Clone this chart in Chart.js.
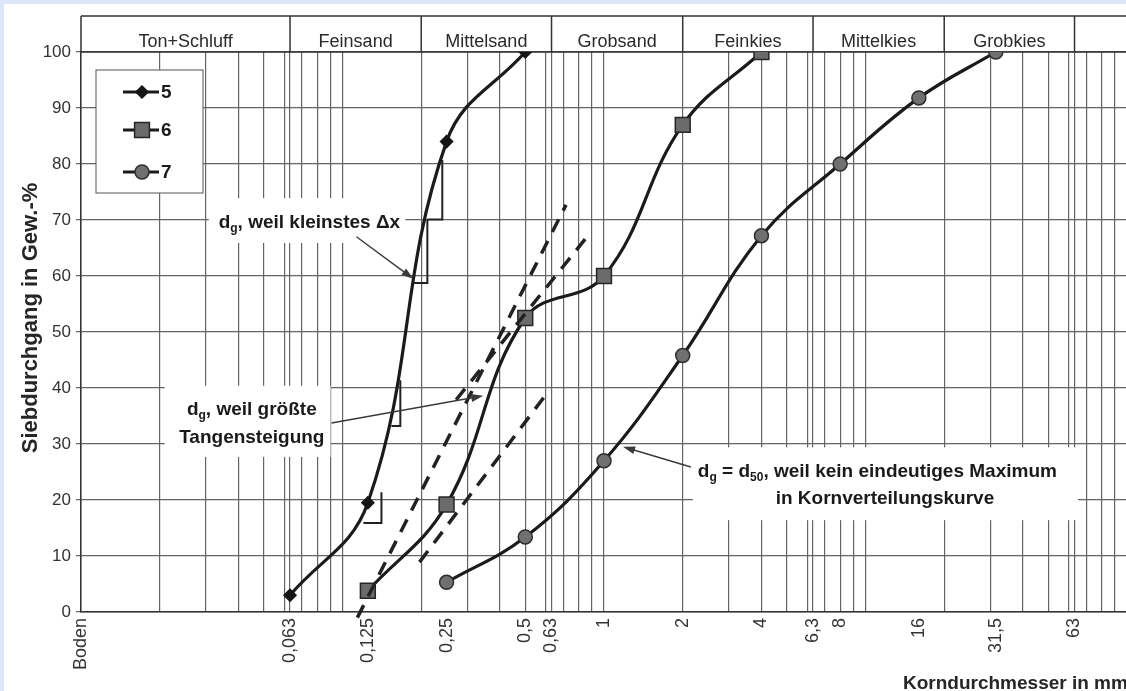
<!DOCTYPE html>
<html>
<head>
<meta charset="utf-8">
<script src="https://cdn.jsdelivr.net/npm/chart.js@4"></script>
<style>
  html, body { margin: 0; padding: 0; width: 1126px; height: 691px; overflow: hidden; background: #dce8f9; }
  #wrap { position: absolute; left: 4px; top: 4px; width: 1150px; height: 687px; background: #fff; }
</style>
</head>
<body>
<div id="wrap"><canvas id="myChart"></canvas></div>
<script>
// Kornverteilungskurven 5, 6, 7 (Siebdurchgang in % ueber Korndurchmesser in mm)
const sieveSizes5 = [0.063, 0.125, 0.25, 0.5];
const passing5 = [3, 19.5, 84, 100];

const sieveSizes6 = [0.125, 0.25, 0.5, 1, 2, 4];
const passing6 = [3.8, 19.2, 52.5, 60, 87, 100];

const sieveSizes7 = [0.25, 0.5, 1, 2, 4, 8, 16, 31.5];
const passing7 = [5.3, 13.4, 27, 45.8, 67.2, 80, 91.8, 100];

const seriesNames = ['5', '6', '7'];

// x-axis labels (not all of them have a grid line)
const tickValues = [0.01, 0.063, 0.125, 0.25, 0.5, 0.63, 1, 2, 4, 6.3, 8, 16, 31.5, 63];
const tickLabels = ['Boden', '0,063', '0,125', '0,25', '0,5', '0,63', '1', '2', '4', '6,3', '8', '16', '31,5', '63'];
const extraGrid = [0.063, 0.63, 6.3, 63];

// soil classes in the header band
const soilClasses = ['Ton+Schluff', 'Feinsand', 'Mittelsand', 'Grobsand', 'Feinkies', 'Mittelkies', 'Grobkies', ''];
const classLimits = [0.01, 0.063, 0.2, 0.63, 2, 6.3, 20, 63, 100];

// dashed tangents [d1, %1, d2, %2]
const tangents = [
    [0.114, -1, 0.716, 72.7],
    [0.197, 8.9, 0.606, 39.1],
    [0.272, 37.9, 0.854, 66.8]
];
// delta-x steps on curve 5 [d1, %1, d2, %2]
const deltaSteps = [
    [0.1202, 15.9, 0.1409, 21.4],
    [0.1538, 33.2, 0.1664, 41.4],
    [0.1866, 58.75, 0.2111, 70.1],
    [0.2111, 70.1, 0.2408, 80.7]
];
// arrows [from d, from %, to d, to %]
const arrows = [
    [0.1131, 67.0, 0.1866, 59.5],
    [0.0908, 33.75, 0.3452, 38.6],
    [2.148, 25.9, 1.182, 29.5]
];
// white boxes behind the notes [d1, d2, %low, %high]
const noteBoxes = [
    [0.0308, 0.174, 65.9, 73.9],
    [0.0209, 0.090, 27.7, 40.4],
    [2.186, 65, 16.4, 29.4]
];
// notes: parts [text, subscript], anchor d, %, align
const notes = [
    { parts: [['d'], ['g', 1], [', weil kleinstes \u0394x']], d: 0.0336, p: 69.5, align: 'left' },
    { parts: [['d'], ['g', 1], [', weil gr\u00f6\u00dfte']], d: 0.045, p: 36.1, align: 'center' },
    { parts: [['Tangensteigung']], d: 0.045, p: 31.2, align: 'center' },
    { parts: [['d'], ['g', 1], [' = d'], ['50', 1], [', weil kein eindeutiges Maximum']], d: 2.285, p: 25, align: 'left' },
    { parts: [['in Kornverteilungskurve']], d: 4.534, p: 20.2, align: 'left' }
];

const FONT = '"Liberation Sans", Arial, sans-serif';
const GRID = '#646464';
const INK = '#1b1b1b';

const gridValues = [];
for (let e = -2; e <= 1; e++) {
    for (let m = 1; m <= 9; m++) {
        gridValues.push(+(m * Math.pow(10, e)).toPrecision(2));
    }
}
gridValues.push(100, ...extraGrid);
const allTicks = [...new Set([...gridValues, ...tickValues])].sort((a, b) => a - b);

const toPoints = (xs, ys) => xs.map((d, i) => ({ x: d, y: ys[i] }));

const markerStyles = [
    { pointStyle: 'rectRot', radius: 6, fill: '#151515', stroke: '#151515' },
    { pointStyle: 'rect', radius: 10.5, fill: '#6b6b6b', stroke: '#262626' },
    { pointStyle: 'circle', radius: 7, fill: '#707070', stroke: '#2e2e2e' }
];

function drawMarker(ctx, style, x, y) {
    ctx.save();
    ctx.fillStyle = style.fill;
    ctx.strokeStyle = style.stroke;
    ctx.lineWidth = 1.5;
    ctx.beginPath();
    const r = style.radius;
    if (style.pointStyle === 'rectRot') {
        ctx.moveTo(x, y - r); ctx.lineTo(x + r, y); ctx.lineTo(x, y + r); ctx.lineTo(x - r, y); ctx.closePath();
    } else if (style.pointStyle === 'rect') {
        const s = r * Math.SQRT1_2;
        ctx.rect(x - s, y - s, 2 * s, 2 * s);
    } else {
        ctx.arc(x, y, r, 0, Math.PI * 2);
    }
    ctx.fill();
    ctx.stroke();
    ctx.restore();
}

function richText(ctx, parts, x, y, align, size) {
    const big = `bold ${size}px ${FONT}`;
    const small = `bold ${Math.round(size * 0.62)}px ${FONT}`;
    let w = 0;
    parts.forEach(([t, sub]) => { ctx.font = sub ? small : big; w += ctx.measureText(t).width; });
    let cx = align === 'center' ? x - w / 2 : x;
    ctx.textAlign = 'left';
    ctx.textBaseline = 'middle';
    parts.forEach(([t, sub]) => {
        ctx.font = sub ? small : big;
        ctx.fillText(t, cx, sub ? y + size * 0.32 : y);
        cx += ctx.measureText(t).width;
    });
}

function arrow(ctx, x1, y1, x2, y2) {
    const a = Math.atan2(y2 - y1, x2 - x1);
    const len = 12, half = 4;
    ctx.beginPath();
    ctx.moveTo(x1, y1);
    ctx.lineTo(x2 - Math.cos(a) * len * 0.8, y2 - Math.sin(a) * len * 0.8);
    ctx.stroke();
    ctx.beginPath();
    ctx.moveTo(x2, y2);
    ctx.lineTo(x2 - Math.cos(a) * len - Math.sin(a) * half, y2 - Math.sin(a) * len + Math.cos(a) * half);
    ctx.lineTo(x2 - Math.cos(a) * len + Math.sin(a) * half, y2 - Math.sin(a) * len - Math.cos(a) * half);
    ctx.closePath();
    ctx.fill();
}

const sheetPlugin = {
    id: 'sheet',
    beforeDatasetsDraw(chart) {
        const { ctx, chartArea: a } = chart;
        const px = v => chart.scales.x.getPixelForValue(v);
        const py = v => chart.scales.y.getPixelForValue(v);
        ctx.save();

        // white boxes behind the notes hide the grid
        ctx.fillStyle = '#fff';
        noteBoxes.forEach(([d1, d2, p1, p2]) => {
            ctx.fillRect(px(d1), py(p2), px(d2) - px(d1), py(p1) - py(p2));
        });

        // header band with soil classes
        const hTop = a.top - 36;
        ctx.strokeStyle = '#333';
        ctx.lineWidth = 1.5;
        ctx.beginPath();
        ctx.moveTo(a.left, hTop); ctx.lineTo(a.right, hTop);
        ctx.moveTo(a.left, a.top); ctx.lineTo(a.right, a.top);
        classLimits.forEach(d => { ctx.moveTo(px(d), hTop); ctx.lineTo(px(d), a.top); });
        ctx.stroke();
        ctx.fillStyle = '#2a2a2a';
        ctx.font = `18px ${FONT}`;
        ctx.textAlign = 'center';
        ctx.textBaseline = 'alphabetic';
        soilClasses.forEach((name, i) => {
            if (!name) return;
            ctx.fillText(name, (px(classLimits[i]) + px(classLimits[i + 1])) / 2, a.top - 5);
        });

        // legend box inside the plot
        const lx = a.left + 15, ly = a.top + 18;
        ctx.fillStyle = '#fff';
        ctx.fillRect(lx, ly, 107, 123);
        ctx.strokeStyle = '#555';
        ctx.lineWidth = 1;
        ctx.strokeRect(lx, ly, 107, 123);
        const rows = [40, 78, 120];
        seriesNames.forEach((name, i) => {
            const y = a.top + rows[i];
            ctx.strokeStyle = INK;
            ctx.lineWidth = 3;
            ctx.beginPath();
            ctx.moveTo(a.left + 42, y); ctx.lineTo(a.left + 78, y);
            ctx.stroke();
            drawMarker(ctx, markerStyles[i], a.left + 61, y);
            ctx.fillStyle = '#1a1a1a';
            ctx.font = `bold 19px ${FONT}`;
            ctx.textAlign = 'left';
            ctx.textBaseline = 'middle';
            ctx.fillText(name, a.left + 80, y + 1);
        });
        ctx.restore();
    },
    afterDatasetsDraw(chart) {
        const { ctx, chartArea: a } = chart;
        const px = v => chart.scales.x.getPixelForValue(v);
        const py = v => chart.scales.y.getPixelForValue(v);
        ctx.save();

        // dashed tangents
        ctx.strokeStyle = '#222';
        ctx.lineWidth = 3.5;
        ctx.setLineDash([14, 10]);
        tangents.forEach(([d1, p1, d2, p2]) => {
            ctx.beginPath();
            ctx.moveTo(px(d1), py(p1));
            ctx.lineTo(px(d2), py(p2));
            ctx.stroke();
        });
        ctx.setLineDash([]);

        // delta-x steps
        ctx.strokeStyle = '#222';
        ctx.lineWidth = 2;
        deltaSteps.forEach(([d1, p1, d2, p2]) => {
            ctx.beginPath();
            ctx.moveTo(px(d1), py(p1));
            ctx.lineTo(px(d2), py(p1));
            ctx.lineTo(px(d2), py(p2));
            ctx.stroke();
        });

        // arrows
        ctx.strokeStyle = '#3a3a3a';
        ctx.fillStyle = '#3a3a3a';
        ctx.lineWidth = 1.4;
        arrows.forEach(([d1, p1, d2, p2]) => arrow(ctx, px(d1), py(p1), px(d2), py(p2)));

        // notes
        ctx.fillStyle = '#1a1a1a';
        notes.forEach(n => richText(ctx, n.parts, px(n.d), py(n.p), n.align, 19));

        // axis titles
        ctx.fillStyle = '#262626';
        ctx.font = `bold 22px ${FONT}`;
        ctx.textBaseline = 'middle';
        ctx.textAlign = 'center';
        ctx.save();
        ctx.translate(27, (a.top + a.bottom) / 2 - 14);
        ctx.rotate(-Math.PI / 2);
        ctx.fillText('Siebdurchgang in Gew.-%', 0, 0);
        ctx.restore();
        ctx.font = `bold 19px ${FONT}`;
        ctx.textAlign = 'left';
        ctx.fillText('Korndurchmesser in mm', a.right - 224, a.bottom + 72);
        ctx.restore();
    }
};

const datasetStyle = (i) => ({
    borderColor: INK,
    borderWidth: 3.2,
    tension: 0.4,
    pointStyle: markerStyles[i].pointStyle,
    pointRadius: markerStyles[i].radius,
    pointBackgroundColor: markerStyles[i].fill,
    pointBorderColor: markerStyles[i].stroke,
    pointBorderWidth: 1.5
});

new Chart(document.getElementById('myChart'), {
    type: 'line',
    data: {
        datasets: [
            { label: seriesNames[0], data: toPoints(sieveSizes5, passing5), ...datasetStyle(0) },
            { label: seriesNames[1], data: toPoints(sieveSizes6, passing6), ...datasetStyle(1) },
            { label: seriesNames[2], data: toPoints(sieveSizes7, passing7), ...datasetStyle(2) }
        ]
    },
    options: {
        responsive: true,
        maintainAspectRatio: false,
        animation: false,
        layout: { padding: { top: 48, right: 27, left: 0, bottom: 0 } },
        plugins: {
            legend: { display: false },
            tooltip: { enabled: false }
        },
        scales: {
            x: {
                type: 'logarithmic',
                min: 0.01,
                max: 100,
                afterBuildTicks: s => { s.ticks = allTicks.map(v => ({ value: v })); },
                afterFit: s => { s.height = 79; s.paddingLeft = 0; s.paddingRight = 0; },
                grid: {
                    color: c => (c.tick && gridValues.includes(c.tick.value)) ? GRID : 'rgba(0,0,0,0)',
                    lineWidth: 1.2,
                    drawTicks: false
                },
                border: { color: '#333', width: 1.5 },
                ticks: {
                    autoSkip: false,
                    minRotation: 90,
                    maxRotation: 90,
                    padding: 6,
                    color: '#333',
                    font: { family: FONT, size: 18 },
                    callback: v => {
                        const i = tickValues.indexOf(v);
                        return i < 0 ? '' : tickLabels[i];
                    }
                }
            },
            y: {
                min: 0,
                max: 100,
                afterFit: s => { s.width = 77; s.paddingTop = 0; s.paddingBottom = 0; },
                grid: { color: GRID, lineWidth: 1.2, tickLength: 5 },
                border: { color: '#333', width: 1.5 },
                ticks: {
                    stepSize: 10,
                    padding: 5,
                    color: '#333',
                    font: { family: FONT, size: 17 }
                }
            }
        }
    },
    plugins: [sheetPlugin]
});
</script>
</body>
</html>
